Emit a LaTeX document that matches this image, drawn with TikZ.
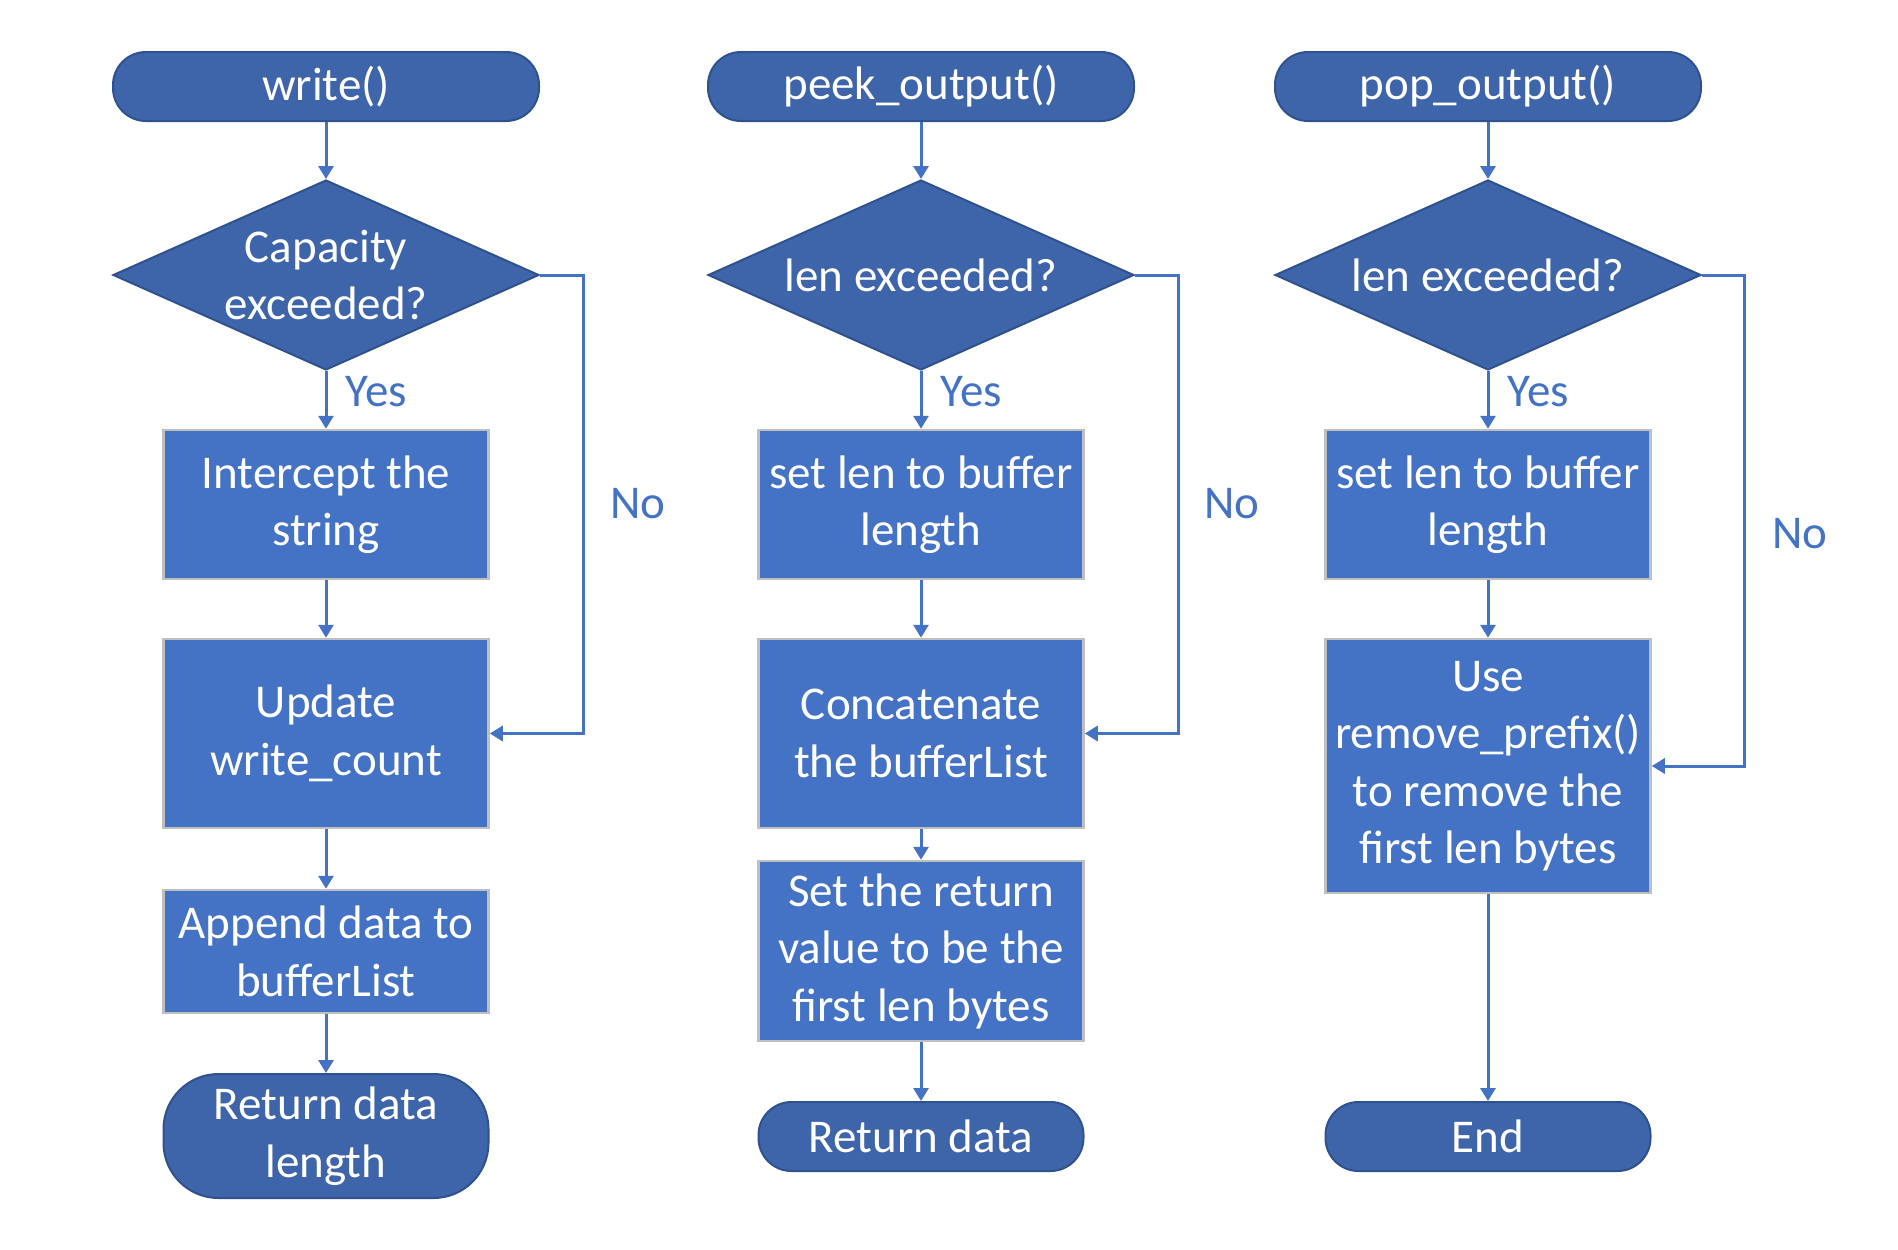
\documentclass[tikz,border=0pt]{standalone}
\usepackage{fontspec}
\setmainfont{Carlito}
\usetikzlibrary{shapes.geometric}
\usetikzlibrary{arrows.meta}

\definecolor{darkfill}{HTML}{3E64AA}
\definecolor{darkline}{HTML}{2F528F}
\definecolor{boxfill}{HTML}{4472C4}
\definecolor{boxline}{HTML}{BFBFBF}

\tikzset{
    terminal/.style={draw=darkline, line width=2pt, fill=darkfill, text=white,
        rounded corners=33pt, minimum width=426pt, minimum height=69pt,
        align=center, inner sep=0pt},
    decision/.style={diamond, draw=darkline, line width=2pt, fill=darkfill, text=white,
        aspect=2.24, minimum width=426pt, minimum height=190pt,
        align=center, inner sep=0pt},
    process/.style={draw=boxline, line width=2.5pt, fill=boxfill, text=white,
        minimum width=325pt, align=center, inner sep=0pt},
    flow/.style={draw=boxfill, line width=3pt, -{Triangle[width=15pt,length=13pt]}},
    answer/.style={text=boxfill},
    yeslabel/.style={answer, right, inner sep=12pt, xshift=6pt, yshift=8pt},
}

\begin{document}
\begin{tikzpicture}[x=1pt, y=-1pt, font=\fontsize{47}{57.5}\selectfont]
        \useasboundingbox (0,0) rectangle (1898,1250);

        % write()
        \node[terminal] (w0) at (326,86.5) {write()};
        \node[decision] (w1) at (326,275) {Capacity\\exceeded?};
        \node[process, minimum height=149pt] (w2) at (326,504.5) {Intercept the\\string};
        \node[process, minimum height=189pt] (w3) at (326,733.5) {Update\\write\_count};
        \node[process, minimum height=123pt] (w4) at (326,951.5) {Append data to\\bufferList};
        \node[terminal, minimum width=325pt, minimum height=124pt, rounded corners=55pt] (w5) at (326,1136) {Return data\\length};
        \draw[flow] (w0) -- (w1);
        \draw[flow] (w1) -- node[yeslabel] {Yes} (w2);
        \draw[flow] (w2) -- (w3);
        \draw[flow] (w3) -- (w4);
        \draw[flow] (w4) -- (w5);
        \draw[flow] (w1.east) -- ++(43,0) |- (w3.east);
        \node[answer] (wno) at (638,504) {No};

        % peek_output()
        \node[terminal] (p0) at (921,86.5) {peek\_output()};
        \node[decision] (p1) at (921,275) {len exceeded?};
        \node[process, minimum height=149pt] (p2) at (921,504.5) {set len to buffer\\length};
        \node[process, minimum height=189pt] (p3) at (921,733.5) {Concatenate\\the bufferList};
        \node[process, minimum height=180pt] (p4) at (921,951) {Set the return\\value to be the\\first len bytes};
        \node[terminal, minimum width=325pt] (p5) at (921,1136.5) {Return data};
        \draw[flow] (p0) -- (p1);
        \draw[flow] (p1) -- node[yeslabel] {Yes} (p2);
        \draw[flow] (p2) -- (p3);
        \draw[flow] (p3) -- (p4);
        \draw[flow] (p4) -- (p5);
        \draw[flow] (p1.east) -- ++(43,0) |- (p3.east);
        \node[answer] (pno) at (1232,504) {No};

        % pop_output()
        \node[terminal] (q0) at (1488,86.5) {pop\_output()};
        \node[decision] (q1) at (1488,275) {len exceeded?};
        \node[process, minimum height=149pt] (q2) at (1488,504.5) {set len to buffer\\length};
        \node[process, minimum height=254pt] (q3) at (1488,766) {Use\\remove\_prefix()\\to remove the\\first len bytes};
        \node[terminal, minimum width=325pt] (q4) at (1488,1136.5) {End};
        \draw[flow] (q0) -- (q1);
        \draw[flow] (q1) -- node[yeslabel] {Yes} (q2);
        \draw[flow] (q2) -- (q3);
        \draw[flow] (q3) -- (q4);
        \draw[flow] (q1.east) -- ++(42,0) |- (q3.east);
        \node[answer] (qno) at (1800,534) {No};
    \end{tikzpicture}
\end{document}
